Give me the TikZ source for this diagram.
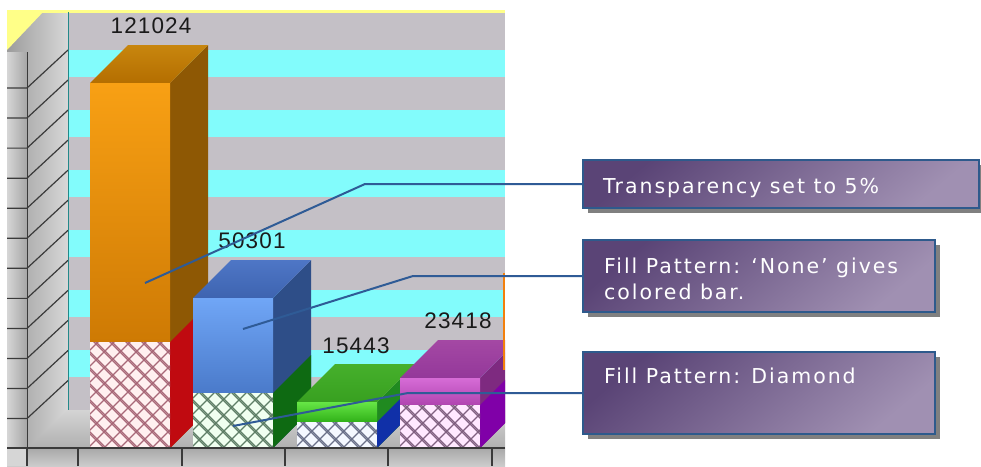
\documentclass[tikz,border=0pt]{standalone}
\usepackage{fontspec}
\setmainfont{Liberation Sans}
\newfontfamily\calfont[LetterSpace=9.5]{DejaVu Sans}
\newfontfamily\numfont[LetterSpace=5]{Liberation Sans}
\usetikzlibrary{shadows}

\definecolor{bggrey}{HTML}{C4C0C6}
\definecolor{bgcyan}{HTML}{82FCFC}
\definecolor{topyellow}{HTML}{FFFF88}
\definecolor{wallA}{HTML}{9C9C9C}
\definecolor{wallB}{HTML}{D8D8D8}
\definecolor{stripA}{HTML}{D6D6D6}
\definecolor{stripB}{HTML}{A6A6A6}
\definecolor{wallline}{HTML}{3A3A3A}
\definecolor{floorA}{HTML}{D4D4D4}
\definecolor{floorB}{HTML}{B0B0B0}
\definecolor{baseA}{HTML}{A8A8A8}
\definecolor{baseB}{HTML}{CCCCCC}
\definecolor{numcol}{HTML}{1A1A1A}
\definecolor{connblue}{HTML}{2F5B96}
\definecolor{boxborder}{HTML}{2E5A8C}
\definecolor{boxA}{HTML}{5A4476}
\definecolor{boxB}{HTML}{A090B2}
\definecolor{shadowgrey}{HTML}{808080}
% bar 1 orange
\definecolor{oraft}{HTML}{F8A014}
\definecolor{orafb}{HTML}{CE7A04}
\definecolor{oratb}{HTML}{C8860E}
\definecolor{oratf}{HTML}{B46E00}
\definecolor{orasu}{HTML}{8E5804}
\definecolor{orasl}{HTML}{C00A10}
\definecolor{orahb}{HTML}{FFF0F0}
\definecolor{orahl}{HTML}{A86878}
% bar 2 blue
\definecolor{bluft}{HTML}{70A6F6}
\definecolor{blufb}{HTML}{4A7ACA}
\definecolor{blutb}{HTML}{4E76C6}
\definecolor{blutf}{HTML}{3E64B0}
\definecolor{blusu}{HTML}{2E4E88}
\definecolor{blusl}{HTML}{0E6A12}
\definecolor{bluhb}{HTML}{F0FFF0}
\definecolor{bluhl}{HTML}{5E7E66}
% bar 3 green
\definecolor{grnft}{HTML}{66E646}
\definecolor{grnfb}{HTML}{30B018}
\definecolor{grntb}{HTML}{46B02C}
\definecolor{grntf}{HTML}{38A020}
\definecolor{grnsu}{HTML}{208A20}
\definecolor{grnsl}{HTML}{1030A8}
\definecolor{grnhb}{HTML}{F4F8FF}
\definecolor{grnhl}{HTML}{6A7088}
% bar 4 magenta
\definecolor{magft}{HTML}{D66CD6}
\definecolor{magfb}{HTML}{B044B0}
\definecolor{magtb}{HTML}{A448A4}
\definecolor{magtf}{HTML}{94389A}
\definecolor{magsu}{HTML}{7E2A80}
\definecolor{magsl}{HTML}{8000A8}
\definecolor{maghb}{HTML}{FFE8FF}
\definecolor{maghl}{HTML}{806080}

\tikzset{
  conn/.style={draw=connblue, line width=2pt},
  callout/.style={draw=boxborder, line width=2.5pt, rectangle, inner sep=0pt,
    outer sep=0pt, anchor=north west, top color=boxA, bottom color=boxB,
    shading angle=40,
    drop shadow={shadow xshift=5pt, shadow yshift=-5pt, fill=shadowgrey, opacity=1}},
  caltext/.style={text=white, anchor=base west, inner sep=0pt,
    font=\calfont\fontsize{20.5}{26}\selectfont},
  numtext/.style={text=numcol, anchor=base, inner sep=0pt,
    font=\numfont\fontsize{22.5}{27}\selectfont},
  hatchline/.style={line width=1.1pt},
}

% #1 left x of front face, #2 top y, #3 top y of hatched part, #4 colour prefix
\newcommand\onebar[4]{%
  \fill[#4su] (#1+80,#2) -- (#1+118,#2-38) -- (#1+118,410) -- (#1+80,448) -- cycle;
  \fill[#4sl] (#1+80,#3) -- (#1+118,#3-38) -- (#1+118,410) -- (#1+80,448) -- cycle;
  \shade[top color=#4tb, bottom color=#4tf] (#1,#2) -- (#1+80,#2) -- (#1+118,#2-38) -- (#1+38,#2-38) -- cycle;
  \shade[top color=#4ft, bottom color=#4fb] (#1,#2) rectangle (#1+80,#3);
  \fill[#4hb] (#1,#3) rectangle (#1+80,448);
  \begin{scope}
    \clip (#1,#3) rectangle (#1+80,448);
    \foreach \k in {0,...,22} {
      \draw[hatchline, #4hl] (#1-130+16*\k,448) -- ++(130,-130);
      \draw[hatchline, #4hl] (#1-130+16*\k,448) -- ++(-130,-130);
      \draw[hatchline, #4hl] (#1+16*\k,448) -- ++(-130,-130);
    }
  \end{scope}
}

\begin{document}
\begin{tikzpicture}[x=1pt,y=-1pt]
\useasboundingbox (0,0) rectangle (981,466);
\fill[white] (0,0) rectangle (981,466);

\begin{scope}
  \clip (7,10) rectangle (505,466);
  % back wall stripes
  \fill[bggrey] (68,12) rectangle (505,410);
  \foreach \y in {50,110,170,230,290,350}
    \fill[bgcyan] (68,\y) rectangle (505,\y+27);
  % left wall
  \shade[left color=wallA, right color=wallB] (7,12) rectangle (68,448);
  \shade[left color=stripA, right color=stripB] (7,52) rectangle (27,448);
  \foreach \k in {0,...,11}
    \draw[wallline, line width=1.2pt] (7,88+30.05*\k) -- (27,88+30.05*\k) -- (68,50+30.05*\k);
  \draw[wallline, line width=0.8pt] (27,52) -- (27,448);
  \fill[topyellow] (7,10) -- (45,10) -- (7,50) -- cycle;
  \fill[topyellow] (7,10) rectangle (505,12.5);
  \draw[wallline!60!cyan, line width=0.8pt] (68,12) -- (68,410);
  % floor
  \shade[top color=floorA, bottom color=floorB] (27,448) -- (68,410) -- (505,410) -- (505,448) -- cycle;
  % bars
  \onebar{90}{83}{342}{ora}
  \onebar{193}{298}{393}{blu}
  \onebar{297}{402}{422}{grn}
  \onebar{400}{378}{405}{mag}
  % base strip
  \shade[top color=baseA, bottom color=baseB] (7,448) rectangle (505,466);
  \fill[stripA] (7,448) rectangle (27,466);
  \draw[wallline, line width=1.2pt] (7,448) -- (505,448);
  \foreach \x in {27,78,182,285,388,492}
    \draw[wallline, line width=1.3pt] (\x,448) -- (\x,466);
  \draw[orange!80!brown, line width=2pt] (504,273) -- (504,370);
\end{scope}

% value labels
\node[numtext] (v1) at (151,33) {121024};
\node[numtext] (v2) at (252,248) {50301};
\node[numtext] (v3) at (356,353) {15443};
\node[numtext] (v4) at (458,328) {23418};

% callout boxes
\node[callout, minimum width=396pt, minimum height=48pt] (b1) at (583,160) {};
\node[callout, minimum width=352pt, minimum height=72pt] (b2) at (583,240) {};
\node[callout, minimum width=352pt, minimum height=82pt] (b3) at (583,352) {};

\node[caltext] (t1) at (603,193) {Transparency set to 5\%};
\node[caltext] (t2a) at (604,273) {Fill Pattern: ‘None’ gives};
\node[caltext] (t2b) at (604,299) {colored bar.};
\node[caltext] (t3) at (604,383) {Fill Pattern: Diamond};

% connectors
\coordinate (k1) at (365,184);
\coordinate (p1) at (145,283);
\coordinate (k2) at (413,276);
\coordinate (p2) at (243,329);
\coordinate (k3) at (408,393);
\coordinate (p3) at (233,426);
\draw[conn] (b1.west) -- (k1) -- (p1);
\draw[conn] (b2.west) -- (k2) -- (p2);
\draw[conn] (b3.west) -- (k3) -- (p3);
\end{tikzpicture}
\end{document}
